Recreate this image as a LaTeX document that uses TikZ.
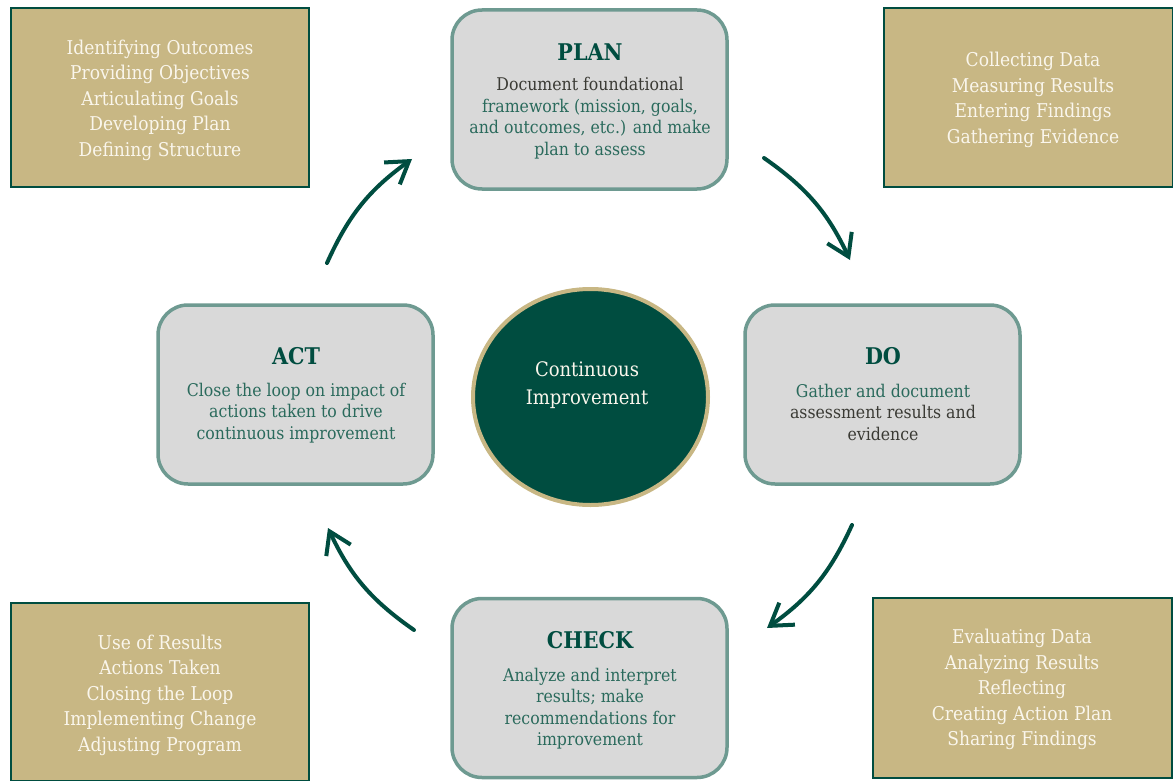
\documentclass[tikz,border=0pt]{standalone}
\usepackage{fontspec}
\setmainfont{DejaVu Serif Condensed}
\usetikzlibrary{arrows.meta,shapes.geometric}
\definecolor{dkgreen}{HTML}{004D40}
\definecolor{tanfill}{HTML}{C8B784}
\definecolor{boxgray}{HTML}{D9D9D9}
\definecolor{boxedge}{HTML}{6E9A91}
\definecolor{bodygreen}{HTML}{2A6A5C}
\definecolor{bodydark}{HTML}{3A3A34}
\definecolor{cream}{HTML}{FAF6EC}
\begin{document}
\begin{tikzpicture}[x=1pt,y=-1pt,
  sidebox/.style={draw=dkgreen,line width=2.5pt,fill=tanfill,inner sep=0pt},
  sidetext/.style={text=cream,align=center,font=\fontsize{19}{25.5}\selectfont,inner sep=0pt},
  stagebox/.style={draw=boxedge,line width=3.5pt,fill=boxgray,rounded corners=30pt,inner sep=0pt,minimum width=275pt,minimum height=179pt},
  stagetitle/.style={text=dkgreen,font=\fontsize{23}{26}\selectfont\bfseries,inner sep=0pt},
  stagebody/.style={text=bodygreen,align=center,font=\fontsize{17.5}{21.5}\selectfont,inner sep=0pt},
  cyclearrow/.style={draw=dkgreen,line width=4pt,line cap=round,-{Straight Barb[length=21pt,width=27pt,line width=4pt]}}
]
\useasboundingbox (0,0) rectangle (1173,781);

% side boxes
\node[sidebox,minimum width=298pt,minimum height=179pt] (tlbox) at (160,97.5) {};
\node[sidetext] (tltext) at (160,100) {Identifying Outcomes\\Providing Objectives\\Articulating Goals\\Developing Plan\\Defining Structure};
\node[sidebox,minimum width=289pt,minimum height=179pt] (trbox) at (1028.5,97.5) {};
\node[sidetext] (trtext) at (1033,100) {Collecting Data\\Measuring Results\\Entering Findings\\Gathering Evidence};
\node[sidebox,minimum width=298pt,minimum height=178pt] (blbox) at (160,692) {};
\node[sidetext] (bltext) at (160,695) {Use of Results\\Actions Taken\\Closing the Loop\\Implementing Change\\Adjusting Program};
\node[sidebox,minimum width=299pt,minimum height=180pt] (brbox) at (1022.5,688) {};
\node[sidetext] (brtext) at (1022,689.5) {Evaluating Data\\Analyzing Results\\Reflecting\\Creating Action Plan\\Sharing Findings};

% stage boxes
\node[stagebox] (plan) at (589.5,99.5) {};
\node[stagetitle] (plant) at (590,52.5) {PLAN};
\node[stagebody] (planb) at (590,118) {\textcolor{bodydark}{Document foundational}\\framework (mission, goals,\\and outcomes, etc.) and make\\plan to assess};

\node[stagebox] (do) at (882.5,394.5) {};
\node[stagetitle] (dot) at (883,356.5) {DO};
\node[stagebody] (dob) at (883,412) {Gather and document\\\textcolor{bodydark}{assessment results and}\\\textcolor{bodydark}{evidence}};

\node[stagebox] (act) at (295.5,394.5) {};
\node[stagetitle] (actt) at (296,356.5) {ACT};
\node[stagebody] (actb) at (296,413) {Close the loop on impact of\\actions taken to drive\\continuous improvement};

\node[stagebox] (check) at (589.5,688) {};
\node[stagetitle] (checkt) at (590,640.5) {CHECK};
\node[stagebody] (checkb) at (590,708.5) {Analyze and interpret\\results; make\\recommendations for\\improvement};

% centre
\node[ellipse,draw=tanfill,line width=4pt,fill=dkgreen,minimum width=235pt,minimum height=216pt] (centre) at (590.5,397) {};
\node[text=cream,align=center,font=\fontsize{20}{28}\selectfont,inner sep=0pt] (centretext) at (587,385) {Continuous\\Improvement};

% arrows
\coordinate (a1s) at (327,263);
\coordinate (a1e) at (412,159);
\coordinate (a2s) at (764,158);
\coordinate (a2e) at (850,260);
\coordinate (a3s) at (852,525);
\coordinate (a3e) at (767,628);
\coordinate (a4s) at (414,630);
\coordinate (a4e) at (328,528);
\draw[cyclearrow] (a1s) to[bend left=15] (a1e);
\draw[cyclearrow] (a2s) to[bend left=15] (a2e);
\draw[cyclearrow] (a3s) to[bend left=15] (a3e);
\draw[cyclearrow] (a4s) to[bend left=15] (a4e);
\end{tikzpicture}
\end{document}
